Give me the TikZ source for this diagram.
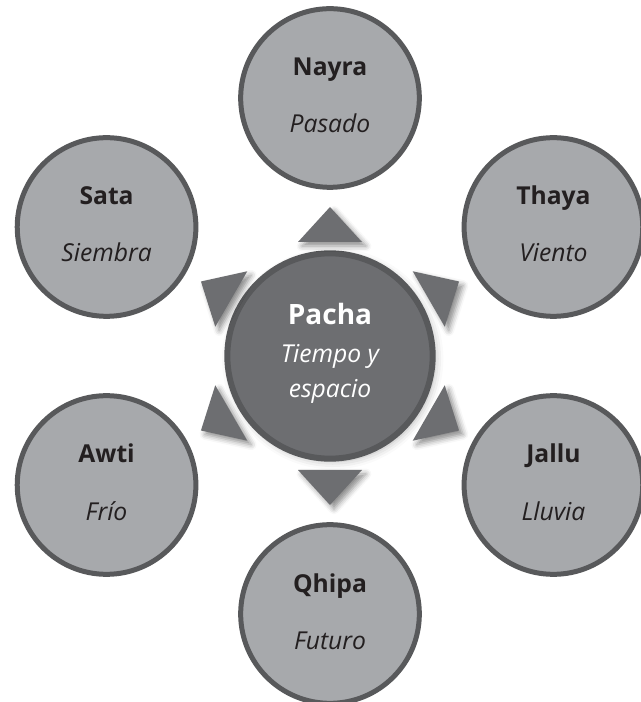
\documentclass[tikz,border=0pt]{standalone}
\usepackage{fontspec}
\setmainfont{Open Sans}
\usetikzlibrary{calc,shadows.blur}

\definecolor{ringfill}{HTML}{A7A9AC}
\definecolor{ringline}{HTML}{58595B}
\definecolor{hubfill}{HTML}{6D6E71}
\definecolor{ink}{HTML}{231F20}

% radii of the pointer tips and bases around the hub
\def\tipr{149}
\def\baser{114}

\begin{document}
\begin{tikzpicture}[x=0.75pt,y=0.75pt]
    \tikzstyle{season}=[circle, draw=ringline, line width=3.75pt, fill=ringfill,
        minimum size=134pt, inner sep=0pt]
    \tikzstyle{hub}=[circle, draw=ringline, line width=4.5pt, fill=hubfill,
        minimum size=154pt, inner sep=0pt,
        blur shadow={shadow xshift=2pt, shadow yshift=-2pt, shadow blur radius=6pt, shadow opacity=30}]
    \tikzstyle{word}=[anchor=base, inner sep=0pt, text=ink, font=\fontsize{18.5}{22}\selectfont\bfseries]
    \tikzstyle{gloss}=[anchor=base, inner sep=0pt, text=ink, font=\fontsize{18.5}{22}\selectfont\itshape]
    \tikzstyle{pointer}=[fill=hubfill,
        blur shadow={shadow xshift=3pt, shadow yshift=-3pt, shadow blur radius=4pt, shadow opacity=45}]
    \useasboundingbox (-330,-346) rectangle (310,356);
    \node[hub] (pacha) at (0,0) {};
    \node[word, text=white, font=\fontsize{21}{25}\selectfont\bfseries] (pacha-w) at ($(pacha)+(0,31)$) {Pacha};
    \node[gloss, text=white] (pacha-a) at ($(pacha)+(0,-7)$) {Tiempo y};
    \node[gloss, text=white] (pacha-b) at ($(pacha)+(0,-42)$) {espacio};
    \foreach \n/\a/\w/\m in {nayra/90/Nayra/Pasado, thaya/30/Thaya/Viento, jallu/-30/Jallu/Lluvia,
    qhipa/-90/Qhipa/Futuro, awti/210/Awti/Frío, sata/150/Sata/Siembra}
    {
        \node[season] (\n) at (\a:258) {};
        \node[word] (\n-w) at ($(\n)+(0,22)$) {\w};
        \node[gloss] (\n-m) at ($(\n)+(0,-35)$) {\m};
    }
    \foreach \a in {90,30,-30,-90,-150,150}
        \fill[pointer] (\a:\tipr) -- ($(\a:\baser)+(\a+90:32)$) -- ($(\a:\baser)+(\a-90:32)$) -- cycle;
\end{tikzpicture}
\end{document}
